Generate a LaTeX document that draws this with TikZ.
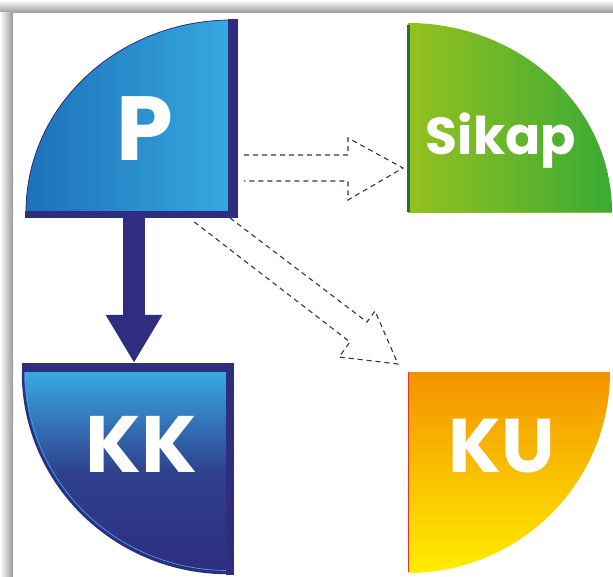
\documentclass[tikz,border=0pt]{standalone}
\usepackage{fontspec}
\setmainfont{Poppins}
\usetikzlibrary{arrows.meta}
\definecolor{navy}{HTML}{2E2D7F}
\definecolor{pdark}{HTML}{1D71B8}
\definecolor{plight}{HTML}{36A9E1}
\definecolor{siklight}{HTML}{95C11F}
\definecolor{sikdark}{HTML}{3AAA35}
\definecolor{dkgreen}{HTML}{16793A}
\definecolor{kutop}{HTML}{F39200}
\definecolor{kubot}{HTML}{FFED00}
\definecolor{kured}{HTML}{E6332A}
\begin{document}
\begin{tikzpicture}[x=1pt,y=1pt,
        lbl/.style={text=white,font=\bfseries,inner sep=0pt,anchor=base},
        hollow/.style={draw=navy,line width=1.1pt,dash pattern=on 5pt off 4pt,
            line join=miter},
        bigarrow/.style={draw=navy,line width=22pt,
            -{Triangle[length=48pt,width=53pt]}}]
    \useasboundingbox (0,0) rectangle (613,576);
    \fill[white] (0,0) rectangle (613,576);
    \shade[top color=white,bottom color=black!40] (0,563) rectangle (613,576);
    \shade[left color=white,right color=black!40] (0,0) rectangle (13,563);
    % P
    \shade[left color=pdark,right color=plight] (26,364)
        arc[start angle=180,end angle=90,x radius=206pt,y radius=192pt]
        -- (232,364) -- cycle;
    \draw[navy,line width=0.8pt] (26,364)
        arc[start angle=180,end angle=90,x radius=206pt,y radius=192pt];
    \fill[navy] (228,358) rectangle (238,557);
    \fill[navy] (25,358) rectangle (238,365);
    \node[lbl,font=\bfseries\fontsize{91}{91}\selectfont] (p) at (144.5,415) {P};
    % KK
    \shade[top color=plight,bottom color=navy,middle color=navy!85!plight]
        (228,204) -- (23,204)
        arc[start angle=180,end angle=270,x radius=205pt,y radius=201pt]
        -- cycle;
    \draw[navy,line width=2.5pt] (23,204)
        arc[start angle=180,end angle=270,x radius=205pt,y radius=201pt];
    \draw[plight,line width=0.7pt] (25.5,204)
        arc[start angle=180,end angle=270,x radius=202.5pt,y radius=198.5pt];
    \fill[navy] (22,204) rectangle (234,213);
    \fill[navy] (226,1) rectangle (234,213);
    \node[lbl,font=\bfseries\fontsize{80}{80}\selectfont] (kk) at (141,104) {KK};
    % Sikap
    \shade[left color=siklight,right color=sikdark] (408,364) -- (408,553)
        arc[start angle=90,end angle=0,x radius=204pt,y radius=189pt]
        -- cycle;
    \draw[siklight,line width=1pt] (408,363.5) -- (612,363.5);
    \draw[dkgreen,line width=3pt] (408,364) -- (408,551);
    \node[lbl,font=\bfseries\fontsize{52}{52}\selectfont] (sikap) at (501,421) {Sikap};
    % KU
    \shade[top color=kutop,bottom color=kubot] (408,204) -- (610,204)
        arc[start angle=0,end angle=-90,x radius=202pt,y radius=201pt]
        -- cycle;
    \draw[kured,line width=1pt] (408,204) -- (408,4);
    \node[lbl,font=\bfseries\fontsize{76}{76}\selectfont] (ku) at (502,103) {KU};
    % arrows
    \coordinate (p-s) at (134,358);
    \coordinate (kk-n) at (134,213);
    \draw[bigarrow] (p-s) -- (kk-n);
    \draw[hollow] (244,421) -- (348,421) -- (348,438) -- (403,408)
        -- (348,376) -- (348,395) -- (244,395);
    \draw[hollow] (230,358) -- (367,254) -- (375,265) -- (398,212)
        -- (339,219) -- (350,234) -- (193,355);
\end{tikzpicture}
\end{document}
